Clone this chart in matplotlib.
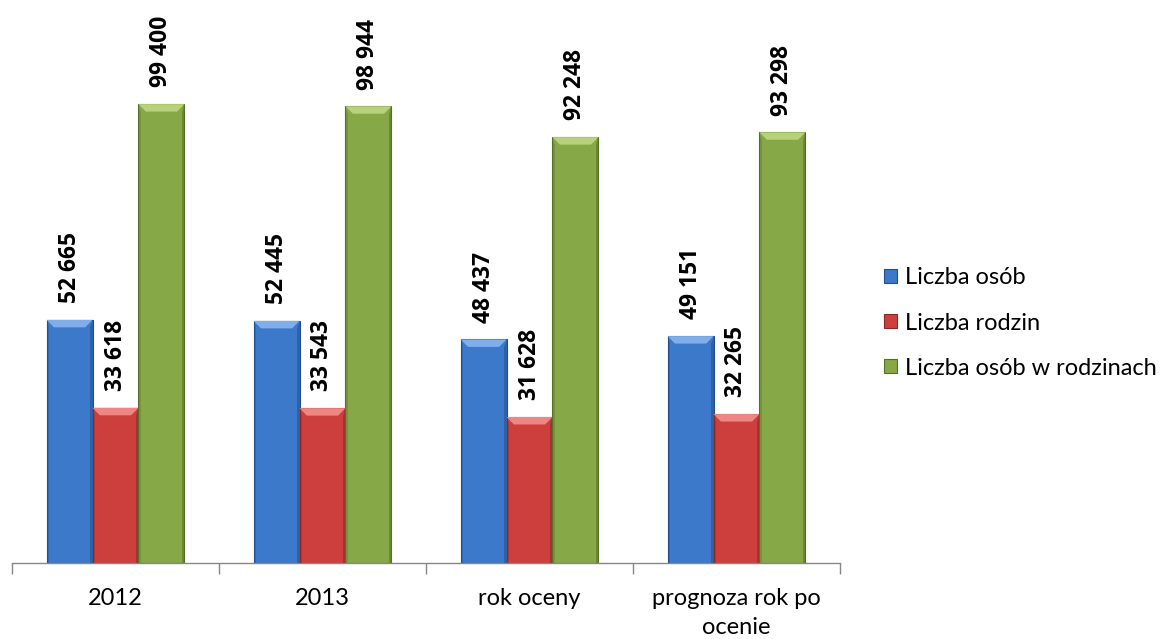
import matplotlib
matplotlib.use("Agg")
import matplotlib.pyplot as plt
import numpy as np
from matplotlib.patches import Polygon

plt.rcParams['font.family'] = ['Lato', 'DejaVu Sans']

categories = ["2012", "2013", "rok oceny", "prognoza rok po\nocenie"]
series_names = ["Liczba osób", "Liczba rodzin", "Liczba osób w rodzinach"]
liczba_osob = [52665, 52445, 48437, 49151]
liczba_rodzin = [33618, 33543, 31628, 32265]
liczba_osob_w_rodzinach = [99400, 98944, 92248, 93298]
labels_osob = ["52 665", "52 445", "48 437", "49 151"]
labels_rodzin = ["33 618", "33 543", "31 628", "32 265"]
labels_rodz_osob = ["99 400", "98 944", "92 248", "93 298"]

colors = ["#3C79CB", "#CD3F3C", "#87A846"]
light = ["#7FAEEA", "#EE8784", "#B7D27A"]
dark = ["#234F8C", "#8A2826", "#556F28"]

W, H = 1167, 639
fig = plt.figure(figsize=(W / 100, H / 100), dpi=100)
ax = fig.add_axes([12 / W, 1 - 563 / H, (840 - 12) / W, (563 - 9) / H])

x = np.arange(len(categories))
bw = 0.222
data = [liczba_osob, liczba_rodzin, liczba_osob_w_rodzinach]
labs = [labels_osob, labels_rodzin, labels_rodz_osob]
ymax = 120000
ax.set_ylim(0, ymax)
ax.set_xlim(-0.5, len(categories) - 0.5)

for i, (vals, lab) in enumerate(zip(data, labs)):
    bars = ax.bar(x + (i - 1) * bw, vals, width=bw, color=colors[i],
                  edgecolor=dark[i], linewidth=0.8, label=series_names[i], zorder=2)
    for b, t in zip(bars, lab):
        x0, w, h = b.get_x(), b.get_width(), b.get_height()
        dx = w * 0.16
        dy = ymax * 0.0135
        # bevel top (light)
        ax.add_patch(Polygon([[x0, h], [x0 + w, h], [x0 + w - dx, h - dy], [x0 + dx, h - dy]],
                             closed=True, facecolor=light[i], edgecolor='none', zorder=3))
        # right side (dark)
        ax.add_patch(Polygon([[x0 + w, h], [x0 + w, 0], [x0 + w - dx * 0.35, 0], [x0 + w - dx * 0.35, h - dy]],
                             closed=True, facecolor=dark[i], edgecolor='none', alpha=0.55, zorder=3))
        # left side (slightly dark)
        ax.add_patch(Polygon([[x0, h], [x0, 0], [x0 + dx * 0.35, 0], [x0 + dx * 0.35, h - dy]],
                             closed=True, facecolor=dark[i], edgecolor='none', alpha=0.35, zorder=3))
        ax.annotate(t, (b.get_x() + w / 2, h), xytext=(0, 12), textcoords='offset points',
                    rotation=90, ha='center', va='bottom', fontsize=16.5, fontweight='bold',
                    family=['Open Sans', 'DejaVu Sans'], color='black', zorder=4)

for s in ['left', 'right', 'top']:
    ax.spines[s].set_visible(False)
ax.spines['bottom'].set_color('#878787')
ax.spines['bottom'].set_linewidth(1)
ax.set_yticks([])
ax.set_xticks(x)
ax.set_xticklabels(categories, fontsize=17, linespacing=1.5)
ax.tick_params(axis='x', which='major', length=0, pad=18)
ax.set_xticks(np.arange(-0.5, len(categories)), minor=True)
ax.tick_params(axis='x', which='minor', length=8, color='#878787', width=1)

handles, lbls = ax.get_legend_handles_labels()
leg = fig.legend(handles, lbls, loc='center left', bbox_to_anchor=(872 / W, 1 - 323 / H),
                 frameon=False, fontsize=17, handlelength=0.55, handleheight=0.55,
                 handletextpad=0.35, labelspacing=1.02, borderpad=0)

fig.savefig("out.png", dpi=100)
